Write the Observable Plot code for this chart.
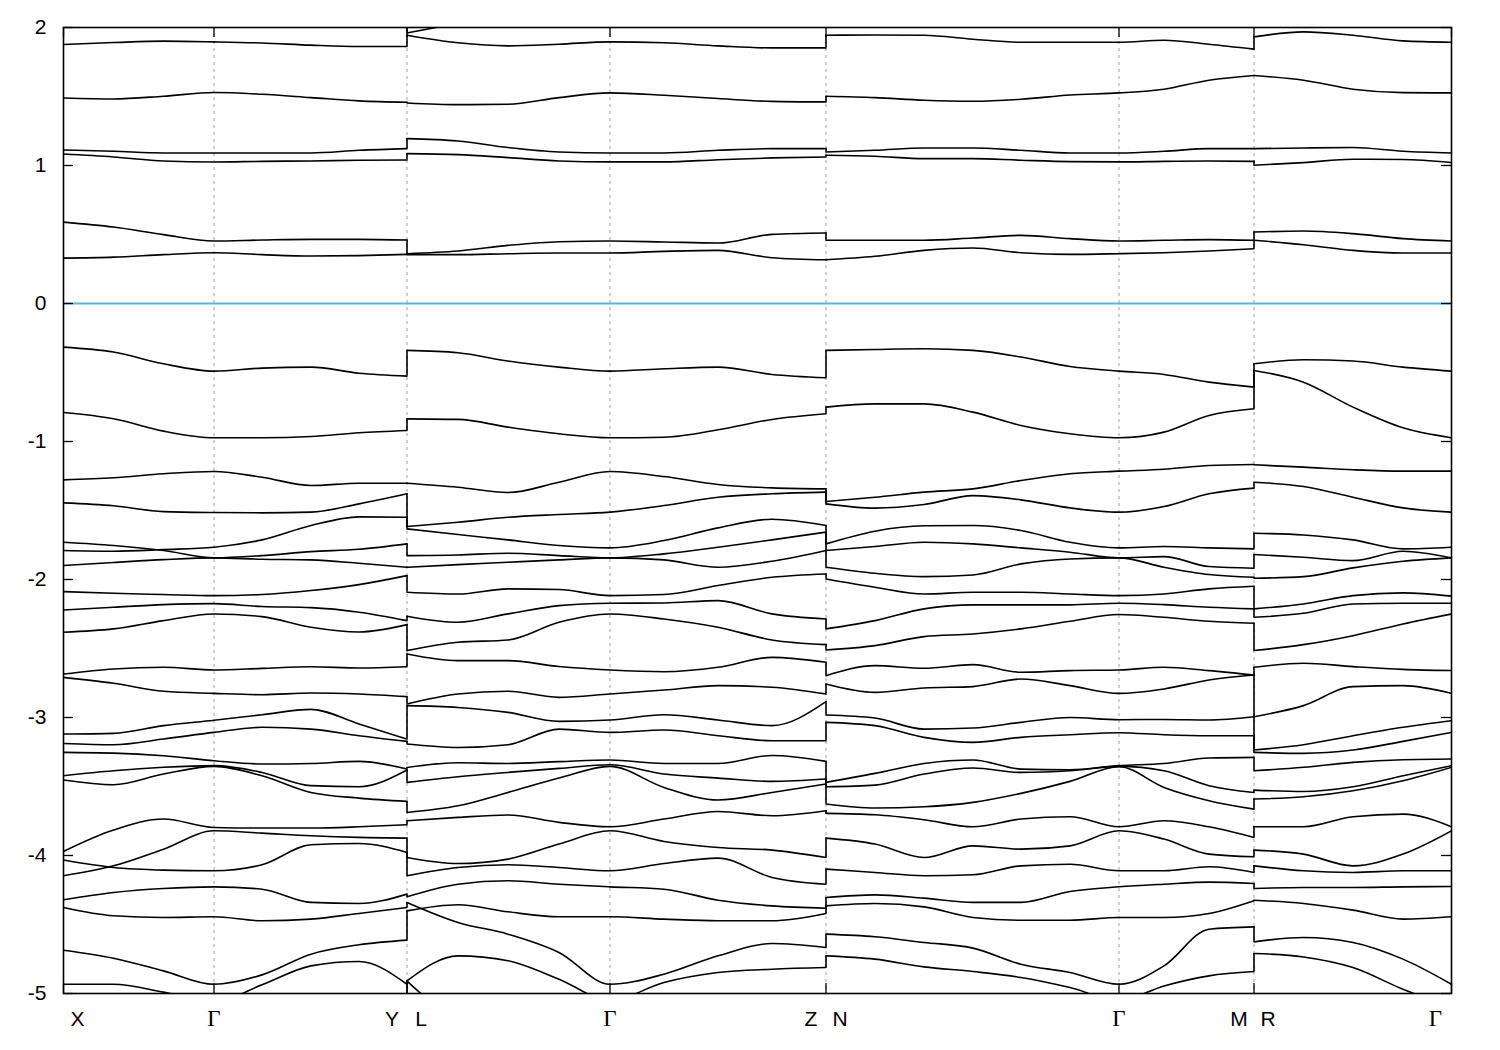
<!DOCTYPE html>
<html><head><meta charset="utf-8">
<script src="https://cdn.jsdelivr.net/npm/d3@7"></script>
<script src="https://cdn.jsdelivr.net/npm/@observablehq/plot@0.6"></script>
<style>body{margin:0;background:#fff}</style>
</head><body><div id="chart"></div>
<script>
// k-path sample positions (path length) for each continuous segment
const kXGY = [0, 0.100, 0.200, 0.301, 0.397, 0.495, 0.591, 0.687];
const kLGZ = [0.687, 0.789, 0.889, 0.991, 1.093, 1.201, 1.309, 1.417, 1.525];
const kNGM = [1.525, 1.623, 1.721, 1.819, 1.915, 2.013, 2.111, 2.201, 2.291, 2.381];
const kRG  = [2.381, 2.480, 2.579, 2.679, 2.776];

// high-symmetry points
const symK = [0, 0.301, 0.687, 1.093, 1.525, 2.111, 2.381, 2.776];
const symLabels = ["X", "Γ", "Y", "L", "Γ", "Z", "N", "Γ", "M", "R", "Γ"];
const symLabelK = [0, 0.301, 0.687, 0.687, 1.093, 1.525, 1.525, 2.111, 2.381, 2.381, 2.776];
const symLabelSide = [1, 0, -1, 1, 0, -1, 1, 0, -1, 1, -1];
const yTicks = [-5, -4, -3, -2, -1, 0, 1, 2];

// band energies (eV) along X-Γ-Y
const bandsXGY = [
[2.1,2.1,2.1,2.1,2.1,2.1,2.1,2.1],
[1.877,1.891,1.901,1.896,1.888,1.872,1.862,1.862],
[1.489,1.482,1.502,1.529,1.516,1.492,1.468,1.458],
[1.112,1.103,1.091,1.091,1.091,1.091,1.110,1.122],
[1.083,1.062,1.033,1.025,1.030,1.033,1.038,1.040],
[0.590,0.554,0.499,0.453,0.460,0.465,0.465,0.460],
[0.329,0.336,0.354,0.368,0.354,0.344,0.347,0.356],
[-0.316,-0.352,-0.437,-0.490,-0.468,-0.461,-0.505,-0.526],
[-0.790,-0.835,-0.925,-0.973,-0.973,-0.964,-0.937,-0.920],
[-1.278,-1.263,-1.234,-1.217,-1.259,-1.319,-1.302,-1.302],
[-1.445,-1.466,-1.508,-1.515,-1.517,-1.512,-1.452,-1.379],
[-1.730,-1.754,-1.790,-1.843,-1.827,-1.798,-1.781,-1.742],
[-1.790,-1.795,-1.783,-1.766,-1.713,-1.609,-1.546,-1.549],
[-1.899,-1.877,-1.856,-1.843,-1.853,-1.858,-1.882,-1.911],
[-2.088,-2.100,-2.109,-2.117,-2.109,-2.080,-2.037,-1.972],
[-2.221,-2.201,-2.182,-2.175,-2.196,-2.204,-2.237,-2.298],
[-2.382,-2.358,-2.298,-2.250,-2.269,-2.346,-2.380,-2.327],
[-2.685,-2.648,-2.636,-2.656,-2.644,-2.632,-2.641,-2.632],
[-2.709,-2.752,-2.810,-2.825,-2.835,-2.823,-2.830,-2.849],
[-3.120,-3.115,-3.059,-3.020,-2.980,-2.941,-3.047,-3.156],
[-3.188,-3.197,-3.156,-3.108,-3.071,-3.084,-3.132,-3.173],
[-3.253,-3.258,-3.277,-3.313,-3.337,-3.333,-3.318,-3.373],
[-3.422,-3.386,-3.361,-3.349,-3.398,-3.494,-3.502,-3.381],
[-3.453,-3.487,-3.410,-3.354,-3.422,-3.543,-3.584,-3.608],
[-3.971,-3.816,-3.736,-3.797,-3.801,-3.801,-3.792,-3.777],
[-4.033,-4.087,-4.106,-4.111,-4.067,-3.922,-3.913,-3.978],
[-4.147,-4.075,-3.954,-3.821,-3.838,-3.857,-3.869,-3.874],
[-4.321,-4.268,-4.239,-4.227,-4.244,-4.340,-4.348,-4.280],
[-4.377,-4.437,-4.449,-4.444,-4.473,-4.461,-4.420,-4.377],
[-4.686,-4.744,-4.836,-4.933,-4.865,-4.715,-4.647,-4.613],
[-4.933,-4.933,-4.990,-5.060,-4.937,-4.800,-4.768,-4.933],
[-5.3,-5.3,-5.3,-5.3,-5.3,-5.3,-5.3,-5.3]
];

// band energies (eV) along L-Γ-Z
const bandsLGZ = [
[1.960,2.030,2.1,2.1,2.1,2.1,2.1,2.1,2.1],
[1.944,1.889,1.867,1.879,1.896,1.889,1.867,1.852,1.852],
[1.453,1.441,1.444,1.492,1.526,1.509,1.485,1.465,1.461],
[1.195,1.178,1.130,1.098,1.091,1.091,1.110,1.122,1.122],
[1.086,1.079,1.057,1.033,1.026,1.026,1.042,1.055,1.062],
[0.361,0.380,0.421,0.448,0.453,0.446,0.438,0.501,0.511],
[0.354,0.354,0.361,0.366,0.366,0.378,0.385,0.332,0.317],
[-0.340,-0.357,-0.417,-0.461,-0.490,-0.473,-0.461,-0.514,-0.538],
[-0.836,-0.840,-0.896,-0.944,-0.973,-0.969,-0.915,-0.840,-0.799],
[-1.302,-1.331,-1.370,-1.295,-1.217,-1.254,-1.312,-1.336,-1.343],
[-1.616,-1.585,-1.549,-1.529,-1.512,-1.464,-1.404,-1.379,-1.367],
[-1.633,-1.674,-1.713,-1.754,-1.771,-1.718,-1.626,-1.563,-1.609],
[-1.827,-1.822,-1.810,-1.827,-1.843,-1.814,-1.766,-1.713,-1.657],
[-1.911,-1.892,-1.875,-1.858,-1.843,-1.858,-1.911,-1.868,-1.790],
[-2.092,-2.105,-2.068,-2.073,-2.117,-2.109,-2.044,-1.984,-1.960],
[-2.266,-2.310,-2.249,-2.189,-2.172,-2.170,-2.153,-2.249,-2.286],
[-2.515,-2.455,-2.438,-2.310,-2.250,-2.286,-2.346,-2.438,-2.472],
[-2.540,-2.588,-2.588,-2.631,-2.656,-2.668,-2.636,-2.564,-2.600],
[-2.902,-2.830,-2.810,-2.854,-2.830,-2.801,-2.769,-2.781,-2.830],
[-2.914,-2.927,-2.963,-3.028,-3.018,-2.980,-3.018,-3.059,-2.885],
[-3.192,-3.217,-3.197,-3.084,-3.108,-3.091,-3.132,-3.168,-3.168],
[-3.362,-3.328,-3.333,-3.320,-3.308,-3.333,-3.333,-3.275,-3.318],
[-3.470,-3.429,-3.398,-3.369,-3.342,-3.410,-3.439,-3.463,-3.446],
[-3.688,-3.640,-3.543,-3.439,-3.354,-3.507,-3.598,-3.543,-3.482],
[-3.748,-3.724,-3.707,-3.760,-3.792,-3.736,-3.681,-3.712,-3.676],
[-4.014,-4.058,-4.026,-3.917,-3.821,-3.898,-3.942,-3.961,-4.014],
[-4.147,-4.087,-4.067,-4.087,-4.111,-4.058,-4.019,-4.159,-4.208],
[-4.299,-4.208,-4.183,-4.208,-4.227,-4.244,-4.324,-4.365,-4.382],
[-4.401,-4.357,-4.408,-4.444,-4.444,-4.461,-4.473,-4.473,-4.420],
[-4.340,-4.485,-4.570,-4.703,-4.933,-4.860,-4.727,-4.638,-4.667],
[-4.908,-4.727,-4.763,-4.896,-5.050,-4.920,-4.848,-4.824,-4.812],
[-4.910,-5.200,-5.300,-5.300,-5.300,-5.300,-5.300,-5.300,-5.300]
];

// band energies (eV) along N-Γ-M
const bandsNGM = [
[2.1,2.1,2.1,2.1,2.1,2.1,2.1,2.1,2.1,2.1],
[1.944,1.946,1.944,1.915,1.893,1.893,1.893,1.908,1.879,1.843],
[1.502,1.492,1.473,1.466,1.480,1.511,1.526,1.553,1.618,1.652],
[1.098,1.110,1.127,1.127,1.110,1.091,1.091,1.103,1.122,1.122],
[1.074,1.067,1.050,1.050,1.038,1.028,1.026,1.030,1.033,1.030],
[0.458,0.458,0.458,0.475,0.494,0.470,0.453,0.458,0.463,0.458],
[0.317,0.342,0.385,0.402,0.368,0.356,0.361,0.368,0.380,0.397],
[-0.340,-0.333,-0.328,-0.340,-0.388,-0.456,-0.490,-0.514,-0.570,-0.606],
[-0.751,-0.727,-0.727,-0.787,-0.884,-0.944,-0.973,-0.932,-0.811,-0.763],
[-1.435,-1.404,-1.367,-1.343,-1.283,-1.234,-1.215,-1.201,-1.174,-1.167],
[-1.452,-1.483,-1.457,-1.392,-1.423,-1.481,-1.512,-1.471,-1.379,-1.338],
[-1.742,-1.650,-1.611,-1.609,-1.645,-1.730,-1.771,-1.761,-1.771,-1.778],
[-1.790,-1.761,-1.730,-1.742,-1.771,-1.802,-1.843,-1.834,-1.906,-1.918],
[-1.911,-1.955,-1.979,-1.967,-1.887,-1.851,-1.843,-1.911,-1.964,-1.984],
[-1.996,-2.056,-2.105,-2.092,-2.092,-2.105,-2.117,-2.105,-2.068,-2.049],
[-2.358,-2.298,-2.213,-2.184,-2.184,-2.184,-2.172,-2.182,-2.201,-2.213],
[-2.511,-2.479,-2.414,-2.395,-2.358,-2.303,-2.254,-2.274,-2.303,-2.317],
[-2.697,-2.624,-2.643,-2.617,-2.672,-2.660,-2.656,-2.636,-2.660,-2.692],
[-2.757,-2.818,-2.786,-2.776,-2.721,-2.769,-2.825,-2.793,-2.728,-2.692],
[-2.982,-3.004,-3.084,-3.076,-3.035,-3.000,-3.016,-3.014,-3.018,-2.995],
[-3.035,-3.059,-3.144,-3.180,-3.144,-3.125,-3.110,-3.125,-3.132,-3.132],
[-3.470,-3.405,-3.333,-3.308,-3.374,-3.379,-3.349,-3.333,-3.294,-3.289],
[-3.502,-3.490,-3.410,-3.366,-3.398,-3.386,-3.354,-3.386,-3.494,-3.543],
[-3.627,-3.656,-3.647,-3.615,-3.550,-3.463,-3.357,-3.507,-3.603,-3.664],
[-3.695,-3.705,-3.741,-3.792,-3.736,-3.719,-3.792,-3.748,-3.792,-3.869],
[-3.874,-3.917,-4.014,-3.930,-3.954,-3.930,-3.821,-3.881,-3.990,-4.009],
[-4.099,-4.123,-4.147,-4.140,-4.075,-4.063,-4.111,-4.111,-4.082,-4.123],
[-4.304,-4.285,-4.309,-4.340,-4.340,-4.261,-4.227,-4.208,-4.193,-4.203],
[-4.365,-4.348,-4.372,-4.449,-4.469,-4.469,-4.449,-4.449,-4.420,-4.328],
[-4.570,-4.589,-4.630,-4.671,-4.788,-4.848,-4.933,-4.800,-4.534,-4.517],
[-4.727,-4.751,-4.807,-4.841,-4.884,-4.957,-5.050,-4.945,-4.872,-4.841],
[-5.3,-5.3,-5.3,-5.3,-5.3,-5.3,-5.3,-5.3,-5.2,-5.0]
];

// band energies (eV) along R-Γ
const bandsRG = [
[2.1,2.1,2.1,2.1,2.1],
[1.932,1.968,1.944,1.903,1.893],
[1.652,1.618,1.553,1.528,1.526],
[1.122,1.127,1.130,1.103,1.091],
[1.002,1.021,1.045,1.043,1.021],
[0.518,0.525,0.506,0.470,0.453],
[0.458,0.426,0.385,0.366,0.366],
[-0.437,-0.408,-0.417,-0.461,-0.490],
[-0.485,-0.570,-0.751,-0.901,-0.973],
[-1.169,-1.186,-1.205,-1.215,-1.215],
[-1.295,-1.326,-1.404,-1.481,-1.512],
[-1.665,-1.677,-1.713,-1.778,-1.766],
[-1.819,-1.839,-1.863,-1.795,-1.843],
[-1.991,-1.979,-1.916,-1.868,-1.843],
[-2.213,-2.177,-2.117,-2.097,-2.121],
[-2.274,-2.245,-2.177,-2.172,-2.172],
[-2.515,-2.472,-2.407,-2.322,-2.250],
[-2.636,-2.607,-2.631,-2.651,-2.660],
[-2.994,-2.914,-2.776,-2.769,-2.825],
[-3.236,-3.197,-3.132,-3.071,-3.023],
[-3.253,-3.260,-3.236,-3.173,-3.108],
[-3.386,-3.361,-3.325,-3.306,-3.301],
[-3.526,-3.536,-3.502,-3.422,-3.349],
[-3.591,-3.574,-3.531,-3.458,-3.361],
[-3.792,-3.792,-3.719,-3.700,-3.792],
[-3.961,-3.990,-4.075,-3.990,-3.821],
[-4.075,-4.111,-4.123,-4.111,-4.111],
[-4.239,-4.232,-4.232,-4.227,-4.225],
[-4.324,-4.348,-4.396,-4.461,-4.444],
[-4.626,-4.594,-4.630,-4.751,-4.933],
[-4.710,-4.735,-4.812,-4.969,-5.100],
[-5.3,-5.3,-5.3,-5.3,-5.3]
];

// ---- build tables from the arrays ----
const paths = [
  {k: kXGY, bands: bandsXGY},
  {k: kLGZ, bands: bandsLGZ},
  {k: kNGM, bands: bandsNGM},
  {k: kRG,  bands: bandsRG}
];
const rows = [];
paths.forEach((p, pi) => p.bands.forEach((b, bi) => b.forEach((E, j) => rows.push({k: p.k[j], E, id: pi * 100 + bi}))));
const jumps = [];
for (let pi = 0; pi < paths.length - 1; pi++) {
  const a = paths[pi], b = paths[pi + 1];
  const ends = a.bands.map(v => v[v.length - 1]).sort((x, y) => y - x);
  const starts = b.bands.map(v => v[0]).sort((x, y) => y - x);
  ends.forEach((e, i) => jumps.push({k: b.k[0], y1: e, y2: starts[i]}));
}
const labels = symLabels.map((t, i) => ({t, k: symLabelK[i], side: symLabelSide[i]}));

const W = 1500, H = 1050;
const mL = 63, mR = 49, mT = 27, mB = 57;
const iw = W - mL - mR, ih = H - mT - mB;
const tickLen = 10;
const latin = "'Liberation Sans', Arial, sans-serif";
const serif = "'Liberation Serif', 'Times New Roman', serif";
const lw = 1.6;

const labelMark = (side, greek, dx) => Plot.text(labels.filter(d => d.side === side && (d.t === "Γ") === greek), {
  x: "k", text: "t", frameAnchor: "bottom", dy: 32, dx,
  fontFamily: greek ? serif : latin, fontSize: greek ? 23 : 21, fill: "black"
});

const chart = Plot.plot({
  width: W, height: H,
  marginLeft: mL, marginRight: mR, marginTop: mT, marginBottom: mB,
  x: {domain: [symK[0], symK[symK.length - 1]], axis: null},
  y: {domain: [-5, 2], axis: null},
  style: {fontFamily: latin, fontSize: "20px", background: "white", color: "black"},
  marks: [
    Plot.ruleX(symK.slice(1, -1), {stroke: "#a0a0a0", strokeWidth: 1, strokeDasharray: "3,4"}),
    Plot.ruleY([0], {stroke: "#56b4e9", strokeWidth: 1.8}),
    Plot.line(rows, {x: "k", y: "E", z: "id", curve: "monotone-x", stroke: "black", strokeWidth: lw, clip: true}),
    Plot.ruleX(jumps, {x: "k", y1: "y1", y2: "y2", stroke: "black", strokeWidth: lw, clip: true}),
    Plot.tickY(yTicks, {y: d => d, insetRight: iw - tickLen, stroke: "black", strokeWidth: 1.3}),
    Plot.tickY(yTicks, {y: d => d, insetLeft: iw - tickLen, stroke: "black", strokeWidth: 1.3}),
    Plot.tickX(symK, {x: d => d, insetBottom: ih - tickLen, stroke: "black", strokeWidth: 1.3}),
    Plot.tickX(symK, {x: d => d, insetTop: ih - tickLen, stroke: "black", strokeWidth: 1.3}),
    Plot.frame({stroke: "black", strokeWidth: 1.6}),
    Plot.axisY(yTicks, {anchor: "left", tickSize: 0, tickPadding: 17, label: null, tickFormat: d => `${d}`, fontSize: 21}),
    labelMark(-1, false, -15),
    labelMark(1, false, 14),
    labelMark(0, true, 0),
    labelMark(-1, true, -16)
  ]
});
document.getElementById("chart").appendChild(chart);
</script>
</body></html>
